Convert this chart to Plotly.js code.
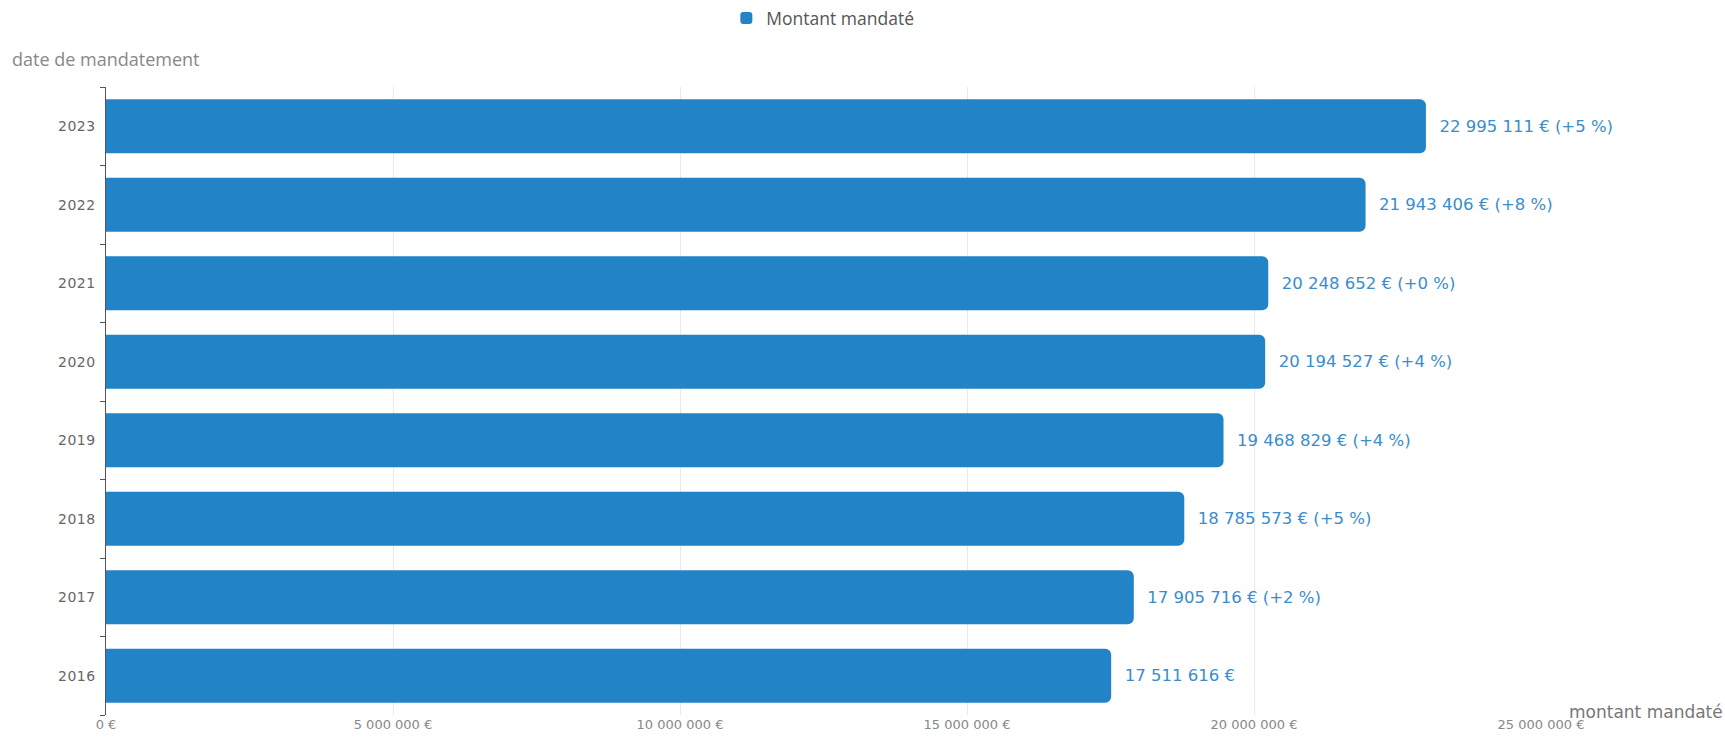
<!DOCTYPE html>
<html>
<head>
<meta charset="utf-8">
<script src="https://cdn.plot.ly/plotly-3.0.1.min.js"></script>
<style>
html,body{margin:0;padding:0;background:#fff;}
#chart{width:1725px;height:737px;}
#chart .ytick text { letter-spacing: 0.5px; }
</style>
</head>
<body>
<div id="chart"></div>
<script>
const years = ["2016", "2017", "2018", "2019", "2020", "2021", "2022", "2023"];
const amounts = [17511616, 17905716, 18785573, 19468829, 20194527, 20248652, 21943406, 22995111];
const seriesName = "Montant mandaté";
const xTickVals = [0, 5000000, 10000000, 15000000, 20000000, 25000000];

function fmt(n) {
  return String(Math.round(n)).replace(/\B(?=(\d{3})+(?!\d))/g, " ");
}
const xTickText = xTickVals.map(v => fmt(v) + " €");
const labels = amounts.map((v, i) => {
  let s = "\u00a0\u00a0" + fmt(v) + " €";
  if (i > 0) {
    const p = Math.round((v / amounts[i - 1] - 1) * 100);
    s += " (" + (p >= 0 ? "+" : "") + p + " %)";
  }
  return s;
});

const trace = {
  type: "bar",
  orientation: "h",
  name: seriesName,
  y: years,
  x: amounts,
  text: labels,
  textposition: "outside",
  cliponaxis: false,
  textfont: {family: "DejaVu Sans, sans-serif", size: 16.5, color: "#3a8dcc"},
  marker: {color: "#2283c6", cornerradius: 6},
  hoverinfo: "none"
};

const layout = {
  width: 1725,
  height: 737,
  margin: {l: 106, r: 184, t: 87, b: 22},
  paper_bgcolor: "#ffffff",
  plot_bgcolor: "#ffffff",
  bargap: 0.31,
  showlegend: true,
  legend: {
    orientation: "h",
    x: 0.477, xanchor: "center",
    xref: "container",
    y: 1, yanchor: "top",
    yref: "container",
    font: {family: "Open Sans, sans-serif", size: 17.5, color: "#555"}
  },
  xaxis: {
    range: [0, 25000000],
    tickvals: xTickVals,
    ticktext: xTickText,
    showgrid: true,
    gridcolor: "#e6e8f2",
    zeroline: false,
    showline: false,
    ticks: "",
    tickfont: {family: "DejaVu Sans, sans-serif", size: 13, color: "#888"}
  },
  yaxis: {
    type: "category",
    categoryorder: "array",
    categoryarray: years,
    showgrid: false,
    showline: true,
    linecolor: "#555",
    linewidth: 1.5,
    ticks: "outside",
    tickson: "boundaries",
    ticklen: 5,
    tickcolor: "#555",
    tickfont: {family: "DejaVu Sans, sans-serif", size: 14, color: "#666"},
    ticklabelstandoff: 6
  },
  annotations: [
    {text: "date de mandatement", xref: "paper", yref: "paper", x: 0, y: 1, xshift: -96, yshift: 28,
     xanchor: "left", yanchor: "middle", showarrow: false,
     font: {family: "Open Sans, sans-serif", size: 18, color: "#888"}},
    {text: "montant mandaté", xref: "paper", yref: "paper", x: 1, y: 0, xshift: 26, yshift: 3,
     xanchor: "left", yanchor: "middle", showarrow: false,
     font: {family: "DejaVu Sans, sans-serif", size: 17, color: "#777"}}
  ]
};

Plotly.newPlot("chart", [trace], layout, {displayModeBar: false, staticPlot: true});
</script>
</body>
</html>
